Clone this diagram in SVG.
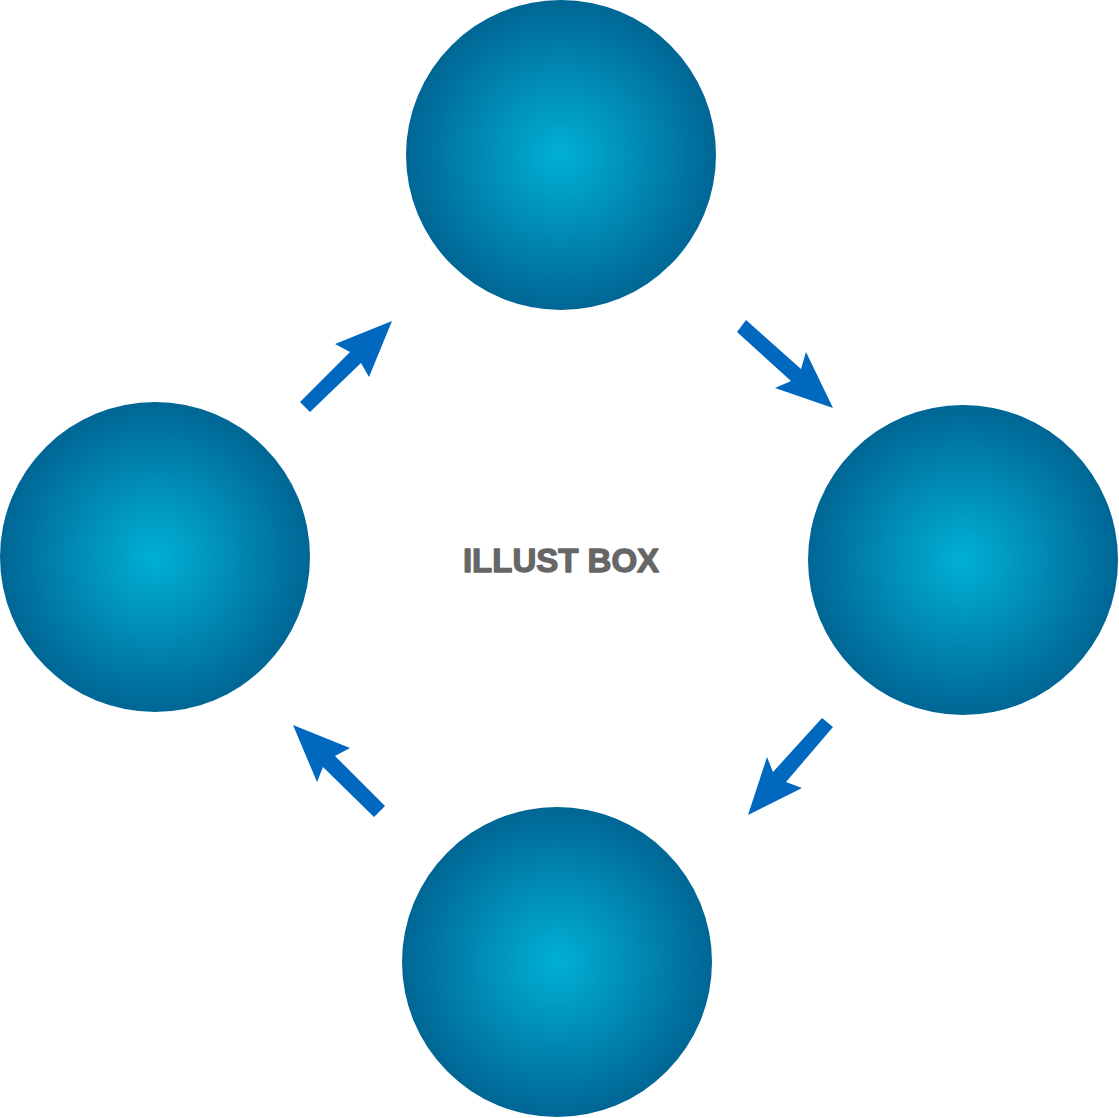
<svg xmlns="http://www.w3.org/2000/svg" width="1119" height="1118" viewBox="0 0 1119 1118">
<defs>
<radialGradient id="g" cx="0.5" cy="0.5" r="0.5">
<stop offset="0" stop-color="#00b0d4"/>
<stop offset="1" stop-color="#006695"/>
</radialGradient>
<style>
.node{fill:url(#g)}
.arr{fill:#0068bf}
.lbl{font-family:"Liberation Sans",Arial,sans-serif;font-weight:bold;font-size:33px;fill:#666666;stroke:#666666;stroke-width:1.3;stroke-linejoin:round}
</style>
</defs>
<rect width="1119" height="1118" fill="#ffffff"/>
<g id="node-top"><circle class="node" cx="561" cy="155" r="155"/></g>
<g id="node-right"><circle class="node" cx="963" cy="560" r="155"/></g>
<g id="node-bottom"><circle class="node" cx="557" cy="962" r="155"/></g>
<g id="node-left"><circle class="node" cx="155" cy="557" r="155"/></g>
<g id="connectors">
<polygon class="arr" points="300,402 350,352 335,344 392,321 369,377 361,363 310,412"/>
<polygon class="arr" points="746,320 801,369 806,352 833,408 775,388 791,381 737,332"/>
<polygon class="arr" points="822,718 773,772 767,757 748,815 802,788 786,782 833,727"/>
<polygon class="arr" points="293,725 350,748 335,756 385,806 374,817 323,767 317,782"/>
</g>
<text class="lbl" x="561" y="572" text-anchor="middle">ILLUST BOX</text>
</svg>
